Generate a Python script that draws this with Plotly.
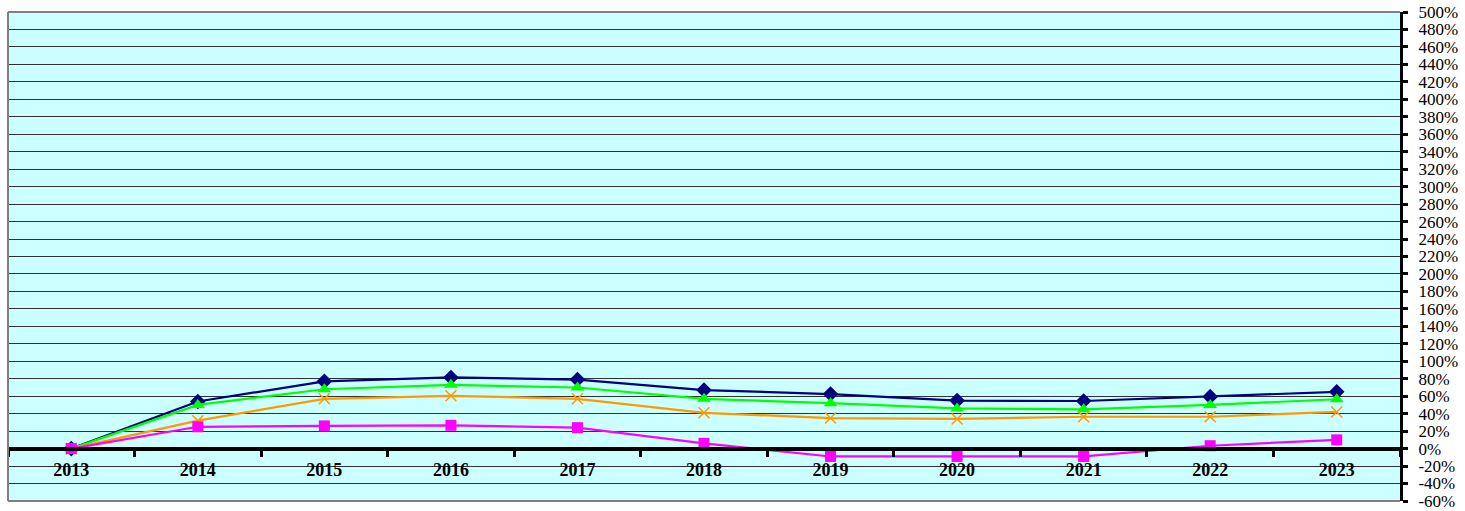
import plotly.graph_objects as go

years = ["2013", "2014", "2015", "2016", "2017", "2018", "2019", "2020", "2021", "2022", "2023"]
navy_vals = [0, 54, 77, 81.5, 79, 67, 62.5, 55, 54.5, 59.5, 65]
green_vals = [0, 50, 68, 73, 70, 57, 52, 46, 45, 50, 56.5]
orange_vals = [0, 32, 57, 60.5, 57, 41, 35, 34, 36.5, 36.5, 42]
magenta_vals = [0, 25, 26, 26.7, 24, 6, -9, -9, -9, 3.3, 10]
y_ticks = list(range(-60, 501, 20))
y_tick_text = [f"{v}%" for v in y_ticks]

fig = go.Figure()
series = [
    (navy_vals, "#000080", dict(symbol="diamond", size=12)),
    (green_vals, "#00FF00", dict(symbol="triangle-up", size=12)),
    (orange_vals, "#FF9900", dict(symbol="x-thin", size=11, line=dict(color="#FF9900", width=1.5))),
    (magenta_vals, "#FF00FF", dict(symbol="square", size=11)),
]
for vals, col, mk in series:
    fig.add_trace(go.Scatter(
        x=years, y=vals, mode="lines+markers",
        line=dict(color=col, width=2.2),
        marker=dict(color=col, **mk),
        cliponaxis=False,
    ))

fig.update_layout(
    width=1465, height=511,
    margin=dict(l=8, r=65, t=12, b=10, autoexpand=False),
    paper_bgcolor="white",
    plot_bgcolor="#CCFFFF",
    showlegend=False,
    font=dict(family="Liberation Serif", color="black"),
    xaxis=dict(
        type="category",
        range=[-0.5, 10.5],
        anchor="free",
        position=60 / 560,
        automargin=False,
        showgrid=False,
        showline=True, linecolor="black", linewidth=4,
        ticks="outside", tickson="boundaries", ticklen=6, tickwidth=3, tickcolor="black",
        ticklabelstandoff=4,
        tickfont=dict(family="Liberation Serif", size=18, color="black", weight="bold"),
        zeroline=False,
    ),
    yaxis=dict(
        range=[-60, 500],
        side="right",
        automargin=False,
        tickvals=y_ticks, ticktext=y_tick_text,
        showgrid=True, gridcolor="#303030", gridwidth=1,
        showline=True, linecolor="black", linewidth=3,
        ticks="outside", ticklen=5, tickwidth=3, tickcolor="black",
        ticklabelstandoff=7,
        tickfont=dict(family="Liberation Serif", size=17, color="black"),
        zeroline=True, zerolinecolor="black", zerolinewidth=4,
    ),
    shapes=[
        dict(type="line", xref="paper", yref="paper", x0=0, x1=0, y0=0, y1=1,
             line=dict(color="#808080", width=2)),
        dict(type="line", xref="paper", yref="paper", x0=0, x1=1, y0=0, y1=0,
             line=dict(color="#808080", width=2)),
        dict(type="line", xref="paper", yref="paper", x0=0, x1=1, y0=1, y1=1,
             line=dict(color="#808080", width=2)),
    ],
)

fig.write_html(
    "out.html",
    config={"displayModeBar": False},
    post_script="document.body.style.margin='0';document.body.style.overflow='hidden';",
)
